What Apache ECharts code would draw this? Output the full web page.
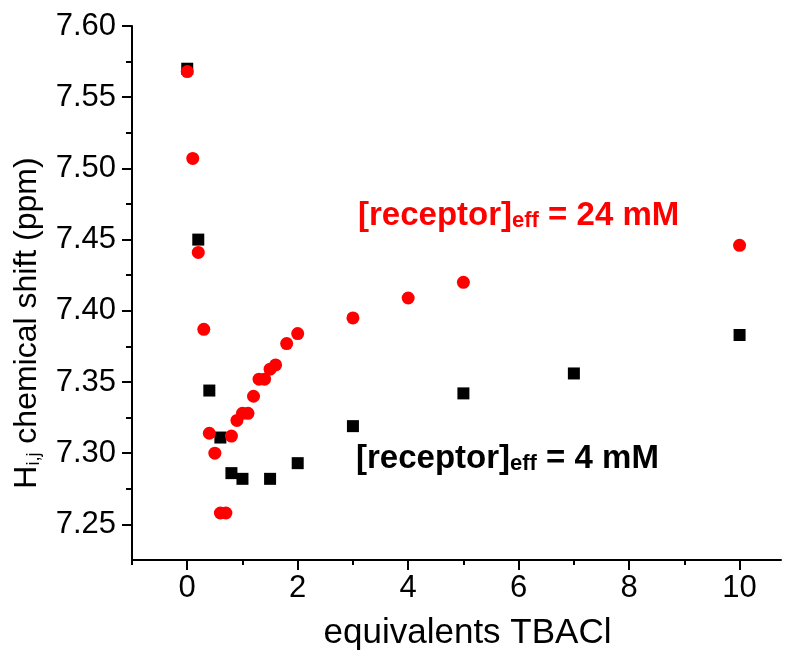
<!DOCTYPE html>
<html><head><meta charset="utf-8">
<script src="https://cdn.jsdelivr.net/npm/echarts@6/dist/echarts.min.js"></script>
<style>html,body{margin:0;padding:0;background:#fff}#c{width:787px;height:656px}</style>
</head><body><div id="c"></div>
<script>
// data
var blackX = [0, 0.2, 0.4, 0.6, 0.8, 1.0, 1.5, 2, 3, 5, 7, 10];
var blackY = [7.570, 7.450, 7.344, 7.311, 7.286, 7.282, 7.282, 7.293, 7.319, 7.342, 7.356, 7.383];
var redX = [0, 0.1, 0.2, 0.3, 0.4, 0.5, 0.6, 0.7, 0.8, 0.9, 1.0, 1.1, 1.2, 1.3, 1.4, 1.5, 1.6, 1.8, 2.0, 3, 4, 5, 10];
var redY = [7.568, 7.507, 7.441, 7.387, 7.314, 7.300, 7.258, 7.258, 7.312, 7.323, 7.328, 7.328, 7.340, 7.352, 7.352, 7.359, 7.362, 7.377, 7.384, 7.395, 7.409, 7.420, 7.446];
var xMajorTicks = [0, 2, 4, 6, 8, 10];
var xMinorTicks = [-1, 1, 3, 5, 7, 9];
var yMajorTicks = [7.25, 7.30, 7.35, 7.40, 7.45, 7.50, 7.55, 7.60];
var yMinorTicks = [7.275, 7.325, 7.375, 7.425, 7.475, 7.525, 7.575];
var xTitle = 'equivalents TBACl';
var redLabel = ['[receptor]', 'eff', ' = 24 mM'];
var blackLabel = ['[receptor]', 'eff', ' = 4 mM'];

function zip(a, b) { return a.map(function (v, i) { return [v, b[i]]; }); }

var FONT = '"Liberation Sans", Arial, sans-serif';
var chart = echarts.init(document.getElementById('c'), null, {renderer: 'canvas'});
var lineStyle = {color: '#000', width: 2};

function richLabel(parts, color) {
  return {
    type: 'text',
    style: {
      text: '{a|' + parts[0] + '}{s|' + parts[1] + '}{a|' + parts[2] + '}',
      rich: {
        a: {fontFamily: FONT, fontWeight: 'bold', fontSize: 33, lineHeight: 33, fill: color, color: color},
        s: {fontFamily: FONT, fontWeight: 'bold', fontSize: 22, lineHeight: 9, verticalAlign: 'bottom', fill: color, color: color}
      },
      fill: color
    }
  };
}
var g1 = richLabel(redLabel, '#ff0000'); g1.left = 358; g1.top = 199;
var g2 = richLabel(blackLabel, '#000000'); g2.left = 356; g2.top = 442;

chart.setOption({
  animation: false,
  backgroundColor: '#fff',
  grid: {left: 132, top: 26, right: 6, bottom: 94, containLabel: false},
  xAxis: [{
    type: 'value', min: -1, max: 10.75,
    axisLine: {show: true, onZero: false, lineStyle: lineStyle},
    axisTick: {show: true, length: 10, lineStyle: lineStyle, customValues: xMajorTicks},
    axisLabel: {show: true, customValues: xMajorTicks, fontFamily: FONT, fontSize: 31, color: '#000', margin: 13},
    splitLine: {show: false},
    name: xTitle, nameLocation: 'middle', nameGap: 56,
    nameTextStyle: {fontFamily: FONT, fontSize: 35, color: '#000', padding: [0, 0, 0, 22]}
  }, {
    type: 'value', min: -1, max: 10.75, position: 'bottom',
    axisLine: {show: false, onZero: false},
    axisTick: {show: true, length: 5, lineStyle: lineStyle, customValues: xMinorTicks},
    axisLabel: {show: false},
    splitLine: {show: false}
  }],
  yAxis: [{
    type: 'value', min: 7.225, max: 7.60,
    axisLine: {show: true, onZero: false, lineStyle: lineStyle},
    axisTick: {show: true, length: 10, lineStyle: lineStyle, customValues: yMajorTicks},
    axisLabel: {show: true, customValues: yMajorTicks, fontFamily: FONT, fontSize: 31, color: '#000', margin: 16,
      formatter: function (v) { return v.toFixed(2); }},
    splitLine: {show: false},
    name: '{a|H}{s|i,j}{a| chemical shift (ppm)}', nameLocation: 'middle', nameRotate: 90, nameGap: 89,
    nameTextStyle: {fontFamily: FONT, fontSize: 32, color: '#000', padding: [0, 60, 0, 0],
      rich: {
        a: {fontFamily: FONT, fontSize: 32, lineHeight: 32, color: '#000'},
        s: {fontFamily: FONT, fontSize: 18, lineHeight: 10, verticalAlign: 'bottom', color: '#000'}
      }}
  }, {
    type: 'value', min: 7.225, max: 7.60, position: 'left',
    axisLine: {show: false, onZero: false},
    axisTick: {show: true, length: 6, lineStyle: lineStyle, customValues: yMinorTicks},
    axisLabel: {show: false},
    splitLine: {show: false}
  }],
  series: [{
    type: 'scatter', xAxisIndex: 0, yAxisIndex: 0,
    symbol: 'rect', symbolSize: 12,
    itemStyle: {color: '#000', opacity: 1},
    data: zip(blackX, blackY), z: 2
  }, {
    type: 'scatter', xAxisIndex: 0, yAxisIndex: 0,
    symbol: 'circle', symbolSize: 13,
    itemStyle: {color: '#ff0000', opacity: 1},
    data: zip(redX, redY), z: 3
  }],
  graphic: [g1, g2]
});
</script></body></html>
